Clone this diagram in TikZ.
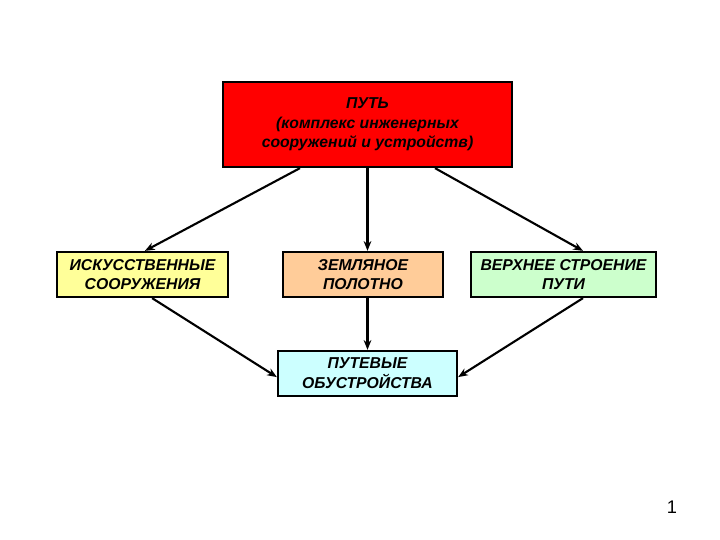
\documentclass[tikz,border=0pt]{standalone}
\usepackage{fontspec}
\setmainfont{Liberation Sans}
\usetikzlibrary{arrows.meta}

\tikzset{
  box/.style={draw=black, line width=1.6pt, minimum height=1.125cm, align=center,
    inner sep=2pt, font=\fontsize{11.2}{14}\selectfont\bfseries\itshape},
  arr/.style={line width=1.5pt, -{Stealth[length=7pt,width=5.5pt]}}
}

\begin{document}
\begin{tikzpicture}
    % ПОЛЕ СЛАЙДА
    \useasboundingbox (0,0) rectangle (18,13.5);
    
    % ГЛАВНЫЙ БЛОК
    \node[box, fill=red, minimum width=7.225cm, minimum height=2.125cm] (put) at (9.1875, 10.3875)
        {ПУТЬ\\(комплекс инженерных\\сооружений и устройств)};
    
    % СОСТАВНЫЕ ЧАСТИ
    \node[box, fill={rgb,255:red,255;green,255;blue,153}, minimum width=4.275cm] (isk) at (3.5625, 6.6375)
        {ИСКУССТВЕННЫЕ\\СООРУЖЕНИЯ};
    \node[box, fill={rgb,255:red,255;green,204;blue,153}, minimum width=4cm] (zem) at (9.075, 6.6375)
        {ЗЕМЛЯНОЕ\\ПОЛОТНО};
    \node[box, fill={rgb,255:red,204;green,255;blue,204}, minimum width=4.625cm] (verh) at (14.0875, 6.6375)
        {ВЕРХНЕЕ СТРОЕНИЕ\\ПУТИ};
    
    % ПУТЕВЫЕ ОБУСТРОЙСТВА
    \node[box, fill={rgb,255:red,204;green,255;blue,255}, minimum width=4.475cm] (obu) at (9.1875, 4.1625)
        {ПУТЕВЫЕ\\ОБУСТРОЙСТВА};
    
    % СТРЕЛКИ
    \draw[arr] ([xshift=-1.6875cm]put.south) -- ([xshift=0.06cm]isk.north);
    \draw[arr] (put.south) -- (put.south |- zem.north);
    \draw[arr] ([xshift=1.6875cm]put.south) -- ([xshift=0.4875cm]verh.north);
    
    \draw[arr] ([xshift=0.24cm]isk.south) -- ([yshift=-0.09cm]obu.west);
    \draw[arr] (zem.south -| obu.north) -- (obu.north);
    \draw[arr] ([xshift=0.4875cm]verh.south) -- ([yshift=-0.09cm]obu.east);
    
    % НОМЕР СЛАЙДА
    \node[font=\fontsize{13}{15}\selectfont] (num) at (16.8, 0.825) {1};
\end{tikzpicture}
\end{document}
